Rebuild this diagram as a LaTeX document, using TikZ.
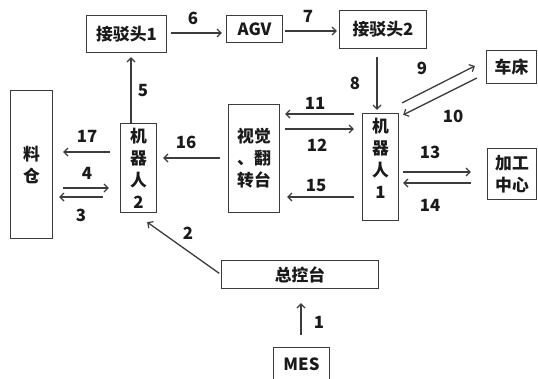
\documentclass[tikz,border=0pt]{standalone}
\usepackage{fontspec}
\setmainfont{Noto Sans CJK SC}
\usetikzlibrary{arrows.meta,calc}
\definecolor{ln}{HTML}{3C3C3C}
\definecolor{tx}{HTML}{1A1A1A}
\begin{document}
\begin{tikzpicture}[x=1pt,y=-1pt,
  font=\fontsize{16.8}{22}\selectfont\bfseries,
  box/.style={draw=ln,line width=1.3pt,inner sep=0pt,text=tx,align=center},
  arr/.style={draw=ln,line width=1.3pt,-{Straight Barb[length=4pt,width=8pt,line width=1.2pt]}},
  lab/.style={text=tx,inner sep=0pt}]
\useasboundingbox (0,0) rectangle (538,378);
% boxes
\node[box,minimum width=80,minimum height=37] (jb1) at (126.5,34) {接驳头1};
\node[box,minimum width=56,minimum height=27] (agv) at (254.5,29) {AGV};
\node[box,minimum width=87,minimum height=38] (jb2) at (383,29.5) {接驳头2};
\node[box,minimum width=50,minimum height=33] (lathe) at (511.5,67) {车床};
\node[box,minimum width=49,minimum height=51] (mc) at (512,174) {加工\\中心};
\node[box,minimum width=36,minimum height=107] (r1) at (380.5,167) {};
\node[lab,align=center] (r1t) at (380.5,158) {机\\器\\人\\1};
\node[box,minimum width=51,minimum height=108] (vis) at (254,158.5) {视觉\\、翻\\转台};
\node[box,minimum width=36,minimum height=89] (r2) at (138.5,168) {机\\器\\人\\2};
\node[box,minimum width=42,minimum height=148] (bin) at (31.5,164.5) {料\\仓};
\node[box,minimum width=157,minimum height=28] (ctrl) at (300,274.5) {总控台};
\node[box,minimum width=56,minimum height=33] (mes) at (301.5,364) {MES};
% arrows
\draw[arr,shorten >=4] (r2.north -| 131,0) -- (jb1.south -| 131,0);
\draw[arr,shorten <=4,shorten >=4] (jb1.east |- 0,33) -- (agv.west |- 0,33);
\draw[arr,shorten <=2,shorten >=2] (agv.east |- 0,31) -- (jb2.west |- 0,31);
\draw[arr,shorten <=8,shorten >=3] (jb2.south -| 377,0) -- (r1.north -| 377,0);
\draw[arr] ($(r1.north east)+(3,-10)$) -- ($(lathe.west)+(-11,-1)$);
\draw[arr] ($(lathe.west)+(-9,11)$) -- ($(r1.north east)+(4,2)$);
\draw[arr,shorten <=8,shorten >=5] (r1.west |- 0,114) -- (vis.east |- 0,114);
\draw[arr,shorten <=5,shorten >=8] (vis.east |- 0,129) -- (r1.west |- 0,129);
\draw[arr,shorten <=4,shorten >=16] (r1.east |- 0,172) -- (mc.west |- 0,172);
\draw[arr,shorten <=16,shorten >=4] (mc.west |- 0,183) -- (r1.east |- 0,183);
\draw[arr,shorten <=8,shorten >=7] (r1.west |- 0,197) -- (vis.east |- 0,197);
\draw[arr,shorten <=8,shorten >=6] (vis.west |- 0,158) -- (r2.east |- 0,158);
\draw[arr,shorten <=10,shorten >=10] (r2.west |- 0,152) -- (bin.east |- 0,152);
\draw[arr,shorten <=10,shorten >=11] (bin.east |- 0,188) -- (r2.west |- 0,188);
\draw[arr,shorten <=17,shorten >=6] (r2.west |- 0,197) -- (bin.east |- 0,197);
\draw[arr,shorten <=2] (ctrl.west) -- ($(r2.south east)+(-10,9)$);
\draw[arr,shorten <=12,shorten >=14] (mes.north -| 301,0) -- (ctrl.south -| 301,0);
% labels
\node[lab] (l1) at (319,322) {1};
\node[lab] (l2) at (188,233) {2};
\node[lab] (l3) at (81,215) {3};
\node[lab] (l4) at (87,173) {4};
\node[lab] (l5) at (143,91) {5};
\node[lab] (l6) at (193,18) {6};
\node[lab] (l7) at (308,16) {7};
\node[lab] (l8) at (355,83) {8};
\node[lab] (l9) at (422,68) {9};
\node[lab] (l10) at (453,116) {10};
\node[lab] (l11) at (315,103) {11};
\node[lab] (l12) at (317,145) {12};
\node[lab] (l13) at (430,152) {13};
\node[lab] (l14) at (430,205) {14};
\node[lab] (l15) at (316,186) {15};
\node[lab] (l16) at (186,142) {16};
\node[lab] (l17) at (87,136) {17};
\end{tikzpicture}
\end{document}
